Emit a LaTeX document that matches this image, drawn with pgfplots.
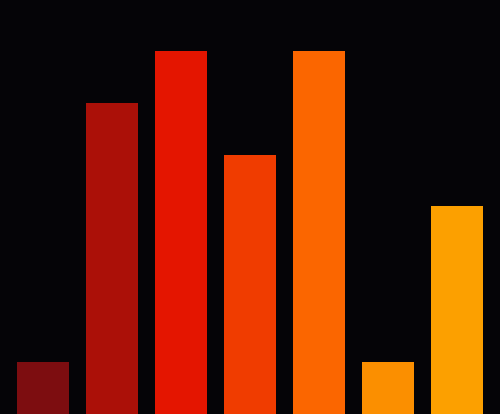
\documentclass[border=0pt]{standalone}
\usepackage{pgfplots}
\pgfplotsset{compat=1.18}
\definecolor{bg}{HTML}{050407}
\definecolor{c1}{HTML}{7D0D10}
\definecolor{c2}{HTML}{AB1008}
\definecolor{c3}{HTML}{E41500}
\definecolor{c4}{HTML}{F03C00}
\definecolor{c5}{HTML}{FB6600}
\definecolor{c6}{HTML}{FB8F00}
\definecolor{c7}{HTML}{FCA000}
\begin{document}
\begin{tikzpicture}
\begin{axis}[
  width=500pt, height=414pt, scale only axis,
  xmin=-0.623, xmax=6.623, ymin=0, ymax=7.98,
  axis line style={draw=none}, ticks=none,
  axis background/.style={fill=bg},
  ybar, bar width=0.754, bar shift=0pt,
  every axis plot/.append style={draw=none},
]
\addplot[fill=c1] coordinates {(0,1)};
\addplot[fill=c2] coordinates {(1,6)};
\addplot[fill=c3] coordinates {(2,7)};
\addplot[fill=c4] coordinates {(3,5)};
\addplot[fill=c5] coordinates {(4,7)};
\addplot[fill=c6] coordinates {(5,1)};
\addplot[fill=c7] coordinates {(6,4)};
\end{axis}
\end{tikzpicture}
\end{document}
